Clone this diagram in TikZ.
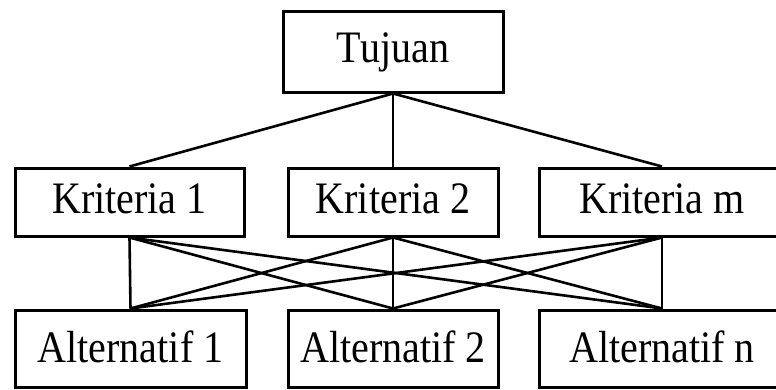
\documentclass[tikz,border=0pt]{standalone}
\usepackage{fontspec}
\setmainfont[FakeStretch=0.89]{Liberation Serif}
\begin{document}
\begin{tikzpicture}[x=1pt,y=-1pt,
  box/.style={draw=black, line width=3pt, fill=white, inner sep=0pt,
    font=\fontsize{45}{54}\selectfont, text height=30pt, text depth=8pt},
  lowbox/.style={box, text depth=3pt},
  link/.style={draw=black, line width=2.6pt}]
  \useasboundingbox (0,0) rectangle (776,389);
  \clip (0,0) rectangle (776,389);

  % goal
  \node[box, minimum width=220pt, minimum height=81pt] (goal) at (393,51.5) {Tujuan};

  % criteria row
  \node[box, minimum width=229pt, minimum height=68pt] (k1) at (129.5,202) {Kriteria 1};
  \node[box, minimum width=210pt, minimum height=68pt] (k2) at (393,202) {Kriteria 2};
  \node[box, minimum width=246pt, minimum height=68pt] (km) at (662,202) {Kriteria m};

  % alternatives row
  \node[lowbox, minimum width=231pt, minimum height=77pt] (a1) at (130.5,348.5) {Alternatif 1};
  \node[lowbox, minimum width=210pt, minimum height=77pt] (a2) at (393,348.5) {Alternatif 2};
  \node[lowbox, minimum width=246pt, minimum height=77pt] (an) at (662,348.5) {Alternatif n};

  % goal to criteria
  \foreach \k in {k1,k2,km}
    \draw[link] (goal.south) -- (\k.north);

  % every criterion to every alternative
  \foreach \k in {k1,k2,km}
    \foreach \a in {a1,a2,an}
      \draw[link] (\k.south) -- (\a.north);
\end{tikzpicture}
\end{document}
